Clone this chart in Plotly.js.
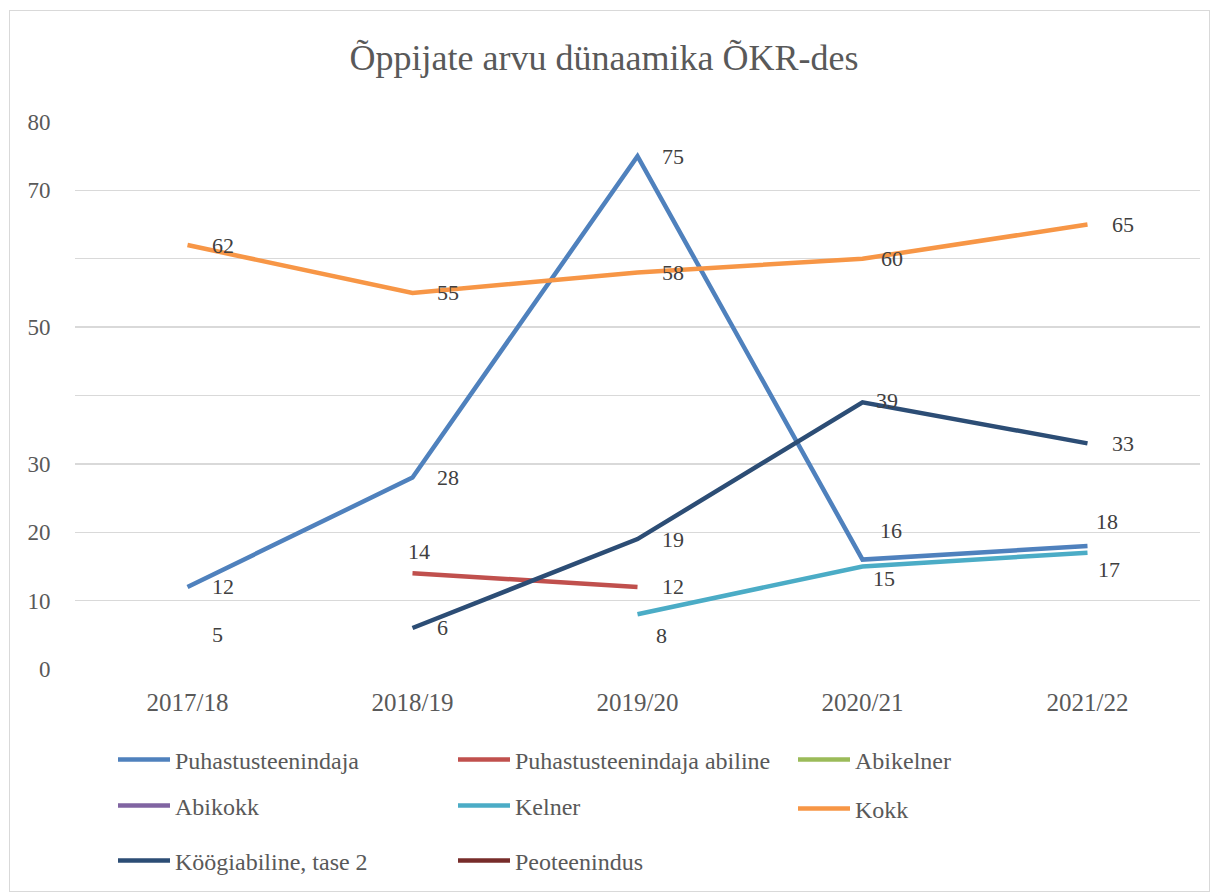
<!DOCTYPE html>
<html><head><meta charset="utf-8">
<script src="https://cdn.plot.ly/plotly-3.0.1.min.js"></script>
<style>
body{margin:0;background:#fff}
#chart{position:absolute;left:0;top:0;width:1218px;height:895px}
#frame{position:absolute;left:9px;top:10px;width:1201px;height:882px;border:1px solid #d9d9d9;box-sizing:border-box;pointer-events:none}
</style>
</head><body>
<div id="chart"></div>
<div id="frame"></div>
<script>
// ---- data ----
const categories = ['2017/18', '2018/19', '2019/20', '2020/21', '2021/22'];
const seriesNames = ['Puhastusteenindaja', 'Puhastusteenindaja abiline', 'Abikelner', 'Abikokk', 'Kelner', 'Kokk', 'Köögiabiline, tase 2', 'Peoteenindus'];
const puhastusteenindaja        = [12, 28, 75, 16, 18];
const puhastusteenindajaAbiline = [null, 14, 12, null, null];
const abikelner                 = [null, null, null, null, null];
const abikokk                   = [5, null, null, null, null];
const kelner                    = [null, null, 8, 15, 17];
const kokk                      = [62, 55, 58, 60, 65];
const koogiabiline              = [null, 6, 19, 39, 33];
const peoteenindus              = [null, null, null, null, null];
const yTickValues = [0, 10, 20, 30, 40, 50, 60, 70, 80];
const yTickLabels = ['0', '10', '20', '30', '', '50', '', '70', '80'];

const seriesValues = [puhastusteenindaja, puhastusteenindajaAbiline, abikelner, abikokk, kelner, kokk, koogiabiline, peoteenindus];

// ---- styles ----
const colors = ['#4f81bd', '#c0504d', '#9bbb59', '#8064a2', '#4bacc6', '#f79646', '#2c4d75', '#772c2a'];
const FONT = 'Liberation Serif, Times New Roman, serif';
// legend placement (container px): [x of item, y centre]
const legendPos = [[113, 760], [453, 760], [793, 760], [113, 806], [453, 806], [793, 809], [113, 861], [453, 861]];
// label nudges: key "series:point" -> [xanchor, xshift, yshift]
const labelNudge = {
  '1:1': ['center', 6, 22],
  '4:2': ['center', 24, -21],
  '0:3': ['left', 15, 29],
  '4:3': ['left', 8, -12],
  '0:4': ['left', 6, 24],
  '4:4': ['left', 8, -17],
  '6:3': ['left', 11, 2],
  '5:3': ['left', 16, 0]
};

const traces = seriesValues.map((vals, i) => ({
  type: 'scatter', mode: 'lines', name: seriesNames[i],
  x: categories, y: vals,
  line: {color: colors[i], width: 4.5},
  connectgaps: false,
  legend: i === 0 ? 'legend' : 'legend' + (i + 1),
  hoverinfo: 'x+y+name'
}));

const annotations = [];
seriesValues.forEach((vals, i) => {
  vals.forEach((v, j) => {
    if (v === null) return;
    const n = labelNudge[i + ':' + j] || ['left', 22, 0];
    annotations.push({
      x: categories[j], y: v, xref: 'x', yref: 'y', text: String(v), showarrow: false,
      xanchor: n[0], yanchor: 'middle', xshift: n[1], yshift: n[2],
      font: {family: FONT, size: 22, color: '#404040'}
    });
  });
});

const layout = {
  width: 1218, height: 895,
  margin: {l: 75, r: 18, t: 122, b: 226},
  paper_bgcolor: '#ffffff', plot_bgcolor: '#ffffff',
  title: {text: 'Õppijate arvu dünaamika ÕKR-des', font: {family: FONT, size: 36, color: '#595959'},
          xref: 'container', yref: 'container', x: 604 / 1218, y: 1 - 57 / 895, xanchor: 'center', yanchor: 'middle'},
  xaxis: {type: 'category', range: [-0.5, 4.5], showgrid: false, zeroline: false, showline: false,
          ticks: 'outside', ticklen: 11, tickcolor: 'rgba(0,0,0,0)',
          tickfont: {family: FONT, size: 25, color: '#595959'}, fixedrange: true},
  yaxis: {range: [0, 80], tickvals: yTickValues, ticktext: yTickLabels, showgrid: true, gridcolor: '#d9d9d9', gridwidth: 1.3,
          zeroline: false, showline: false, ticks: 'outside', ticklen: 19, tickcolor: 'rgba(0,0,0,0)',
          tickfont: {family: FONT, size: 23, color: '#595959'}, fixedrange: true},
  annotations: annotations,
  showlegend: true
};
legendPos.forEach((p, i) => {
  layout[i === 0 ? 'legend' : 'legend' + (i + 1)] = {
    xref: 'container', yref: 'container', x: p[0] / 1218, y: 1 - p[1] / 895,
    xanchor: 'left', yanchor: 'middle', orientation: 'h', bgcolor: 'rgba(0,0,0,0)',
    itemwidth: 52, font: {family: FONT, size: 24, color: '#595959'}
  };
});

Plotly.newPlot('chart', traces, layout, {displayModeBar: false, staticPlot: true});
</script>
</body></html>
